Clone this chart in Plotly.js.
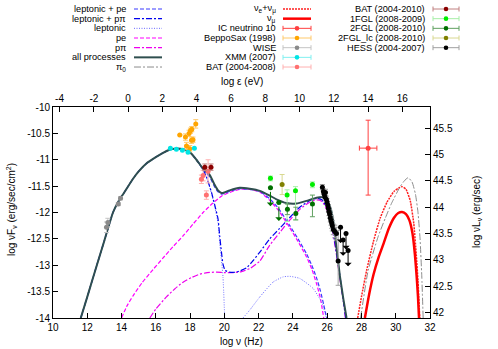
<!DOCTYPE html>
<html><head><meta charset="utf-8">
<script src="https://cdn.plot.ly/plotly-3.0.1.min.js"></script>
<style>html,body{margin:0;padding:0;background:#fff}#chart{width:498px;height:349px}</style>
</head><body><div id="chart"></div>
<script>
// ---------- model curves (log nu [Hz], log nuFnu) ----------
const allX = [11.62,12.0,12.5,13.0,13.5,13.8,14.1,14.67,15.0,15.45,16.0,16.42,16.8,17.1,17.6,18.0,18.37,18.76,19.15,19.44,19.63,19.83,20.0,20.31,20.9,21.48,22.07,22.65,23.04,23.62,24.21,24.79,25.38,25.76,26.0,26.2,26.35,26.5,26.74,26.95,27.13];
const allY = [-14,-13.6,-13.06,-12.53,-12.0,-11.8,-11.65,-11.36,-11.22,-11.07,-10.95,-10.87,-10.81,-10.79,-10.8,-10.86,-11.0,-11.17,-11.29,-11.48,-11.58,-11.63,-11.62,-11.58,-11.53,-11.55,-11.59,-11.68,-11.75,-11.82,-11.83,-11.78,-11.72,-11.71,-11.78,-11.92,-12.15,-12.55,-13.2,-13.65,-14];

const lepX = [11.62,12.0,12.5,13.0,13.5,13.8,14.1,14.67,15.0,15.45,16.0,16.42,16.8,17.1,17.6,18.0,18.37,18.6,18.95,19.25,19.44,19.63,19.73,19.83,19.92,20.02,null,21.09,21.48,22.07,22.84,23.43,23.82,24.4,25.18,25.67,25.96];
const lepY = [-14,-13.6,-13.06,-12.53,-12.0,-11.8,-11.65,-11.36,-11.22,-11.07,-10.95,-10.87,-10.81,-10.79,-10.8,-10.86,-11.0,-11.1,-11.33,-11.64,-11.9,-12.2,-12.59,-12.9,-13.22,-14,null,-14,-13.85,-13.6,-13.32,-13.22,-13.21,-13.25,-13.44,-13.7,-14];

const lepPeX = [11.62,12.0,12.5,13.0,13.5,13.8,14.1,14.67,15.0,15.45,16.0,16.42,16.8,17.1,17.6,18.0,18.37,18.76,19.15,19.44,19.63,19.83,20.0,20.31,20.9,21.48,22.07,22.65,23.2,23.8,24.3,24.79,25.1,25.38,25.6,25.8,25.97];
const lepPeY = [-14,-13.6,-13.06,-12.53,-12.0,-11.8,-11.65,-11.36,-11.22,-11.07,-10.95,-10.87,-10.81,-10.79,-10.8,-10.86,-11.0,-11.19,-11.33,-11.52,-11.61,-11.65,-11.64,-11.6,-11.55,-11.56,-11.6,-11.74,-11.94,-12.24,-12.5,-12.78,-13.0,-13.24,-13.48,-13.75,-14];

const lepPpiX = [11.62,12.0,12.5,13.0,13.5,13.8,14.1,14.67,15.0,15.45,16.0,16.42,16.8,17.1,17.6,18.0,18.37,18.6,18.95,19.25,19.44,19.63,19.73,19.83,19.92,20.05,20.3,20.7,21.29,21.68,22.07,22.65,23.23,23.8,24.4,25.0,25.4,25.7,26.0,26.3,26.55,26.8,27.08];
const lepPpiY = [-14,-13.6,-13.06,-12.53,-12.0,-11.8,-11.65,-11.36,-11.22,-11.07,-10.95,-10.87,-10.81,-10.79,-10.8,-10.86,-11.0,-11.1,-11.32,-11.62,-11.86,-12.12,-12.45,-12.75,-12.98,-13.1,-13.13,-13.13,-13.05,-12.91,-12.75,-12.5,-12.3,-12.1,-11.9,-11.77,-11.73,-11.76,-11.93,-12.28,-12.78,-13.33,-14];

const peX = [14.0,14.3,14.67,15.2,15.84,16.4,17.0,17.6,18.17,18.76,19.3,19.83,20.31,20.9,21.48,22.07,22.65,23.2,23.8,24.3,24.79,25.1,25.38,25.6,25.8];
const peY = [-14,-13.78,-13.58,-13.33,-13.08,-12.87,-12.65,-12.44,-12.22,-12.0,-11.83,-11.69,-11.62,-11.56,-11.56,-11.61,-11.77,-11.98,-12.28,-12.55,-12.84,-13.07,-13.35,-13.62,-14];

const ppiX = [15.65,16.0,16.62,17.1,17.59,18.1,18.56,19.0,19.54,20.0,20.51,21.0,21.5,22.07,22.65,23.23,23.8,24.4,25.0,25.4,25.7,26.0,26.3,26.55,26.8,27.0,27.06];
const ppiY = [-14,-13.83,-13.6,-13.45,-13.32,-13.23,-13.17,-13.14,-13.13,-13.14,-13.14,-13.12,-13.06,-12.92,-12.62,-12.38,-12.15,-11.94,-11.8,-11.76,-11.79,-11.96,-12.32,-12.82,-13.38,-13.8,-14];

const pi0X = [27.95,28.39,28.97,29.4,29.75,30.24,30.5,30.72,30.95,31.15,31.3,31.42,31.52,31.6];
const pi0Y = [-14,-13.1,-12.46,-12.1,-11.83,-11.52,-11.4,-11.34,-11.42,-11.65,-12.0,-12.5,-13.2,-14];

const nuAllX = [27.78,28.0,28.3,28.7,29.1,29.5,29.9,30.2,30.37,30.6,30.85,31.05,31.2,31.3,31.4];
const nuAllY = [-14,-13.6,-13.1,-12.55,-12.1,-11.8,-11.6,-11.53,-11.51,-11.56,-11.78,-12.2,-12.8,-13.3,-14];

const numuX = [28.2,28.45,28.7,29.0,29.3,29.6,29.9,30.15,30.37,30.6,30.8,30.98,31.12,31.22,31.3,31.36];
const numuY = [-14,-13.55,-13.18,-12.85,-12.58,-12.3,-12.1,-12.01,-11.99,-12.03,-12.15,-12.4,-12.8,-13.2,-13.6,-14];

// ---------- observations ----------
const wiseX = [13.12,13.2,13.81,13.94];
const wiseY = [-12.28,-12.19,-11.84,-11.73];
const wiseE = [0.1,0.08,0.03,0.03];

const saxX = [17.40,17.73,17.79,17.94,18.02,18.10,18.08,18.17,17.98,18.33];
const saxY = [-10.53,-10.57,-10.74,-10.50,-10.45,-10.42,-10.63,-10.62,-10.79,-10.32];
const saxE = [0.0,0.06,0.07,0.06,0.05,0.05,0.06,0.05,0.06,0.08];

const xmmX = [16.85,17.2,17.55,17.88,18.25];
const xmmY = [-10.78,-10.8,-10.82,-10.86,-10.78];

const bat08X = [18.66,18.76,18.95,19.05];
const bat08Y = [-11.37,-11.30,-11.67,-11.22];
const bat08E = [0.08,0.1,0.08,0.22];

const bat10X = [18.86,19.22];
const bat10Y = [-11.14,-11.14];
const bat10E = [0.06,0.06];

const icX = [28.39];
const icY = [-10.78];
const icEp = [0.53];
const icEm = [0.89];
const icEx = [0.51];

const fgl1X = [22.69,23.66,24.15,25.14];
const fgl1Y = [-11.35,-11.67,-11.59,-11.47];
const fgl1Ep = [0.04,0.1,0.08,0.05];
const fgl1Em = [0.05,0.5,0.55,0.06];

const fgl2X = [22.69,23.18,23.68,24.17,25.14];
const fgl2Y = [-11.53,-11.81,-11.94,-12.02,-11.84];
const fgl2Ep = [0,0,0.1,0.12,0.17];
const fgl2Em = [0,0,0.1,0.12,0.24];
const fgl2UL = [true,true,false,false,false];

const lcX = [23.37];
const lcY = [-11.47];
const lcE = [0.19];

const hessX = [25.72,25.78,25.82,25.86,25.9,25.95,25.99,26.03,26.07,26.1,26.14,26.18,26.22,26.26,26.3,26.36,26.44,26.54,26.64];
const hessY = [-11.52,-11.6,-11.65,-11.7,-11.62,-11.75,-11.8,-11.86,-11.92,-11.98,-12.03,-12.1,-12.15,-12.2,-12.25,-12.32,-12.36,-12.4,-12.92];
const hessEp = [0.05,0.05,0.05,0.06,0.06,0.06,0.06,0.07,0.07,0.08,0.08,0.08,0.09,0.1,0.1,0.1,0.12,0.12,0.58];
const hessEm = [0.05,0.05,0.05,0.06,0.06,0.06,0.06,0.07,0.07,0.08,0.08,0.08,0.09,0.1,0.1,0.1,0.12,0.12,0.46];
const hessUlX = [26.78,26.93,27.1,27.22];
const hessUlY = [-12.28,-12.52,-12.4,-12.72];

// ---------- axes ticks ----------
const xTicks = [10,12,14,16,18,20,22,24,26,28,30,32];
const xTickText = ['10','12','14','16','18','20','22','24','26','28','30','32'];
const x2Ticks = [-4,-2,0,2,4,6,8,10,12,14,16];
const x2TickText = ['-4','-2','0','2','4','6','8','10','12','14','16'];
const yTicks = [-14,-13.5,-13,-12.5,-12,-11.5,-11,-10.5,-10];
const yTickText = ['-14','-13.5','-13','-12.5','-12','-11.5','-11','-10.5','-10'];
const y2Ticks = [42,42.5,43,43.5,44,44.5,45,45.5];
const y2TickText = ['42','42.5','43','43.5','44','44.5','45','45.5'];
const LOG_H_EV = 14.383;   // log nu(Hz) - log eps(eV)
const LUM_OFFSET = 55.9;   // log nuLnu - log nuFnu

const FONT = 'Liberation Sans, Arial, sans-serif';
const traces = [];
// empty traces so that the top and right axes are created
traces.push({x:[], y:[], xaxis:'x2', yaxis:'y', mode:'markers', hoverinfo:'skip'});
traces.push({x:[], y:[], xaxis:'x', yaxis:'y2', mode:'markers', hoverinfo:'skip'});

function curve(x, y, color, width, dash) {
  traces.push({x, y, mode:'lines', line:{color, width, dash, shape:'spline', smoothing:0.5}, hoverinfo:'skip', connectgaps:false});
}
curve(pi0X, pi0Y, '#8c8c8c', 1, '7px,2px,2px,2px');
curve(nuAllX, nuAllY, '#ff2020', 1.5, '2px,1px');
curve(numuX, numuY, '#ff0000', 2.5, 'solid');
curve(ppiX, ppiY, '#ee00ee', 1.2, '6px,2px,2px,2px');
curve(peX, peY, '#ff00ff', 1.2, '4px,2px');
curve(lepX, lepY, '#6a6aff', 1, '1px,1.5px');
curve(lepPpiX, lepPpiY, '#0000ee', 1.2, '6px,2px,2px,2px');
curve(lepPeX, lepPeY, '#3a3aff', 1.2, '4px,2px');
curve(allX, allY, '#2f4f4f', 2, 'solid');

function pts(x, y, mcolor, ecolor, ey, eym, ex) {
  const t = {x, y, mode:'markers', marker:{color:mcolor, size:5}, hoverinfo:'skip'};
  if (ey) t.error_y = {type:'data', array:ey, arrayminus:eym||ey, symmetric:!eym, color:ecolor, thickness:1, width:2.5};
  if (ex) t.error_x = {type:'data', array:ex, color:ecolor, thickness:1, width:2.5};
  traces.push(t);
}
pts(wiseX, wiseY, '#8a8a8a', '#c4c4c4', wiseE);
pts(saxX, saxY, '#ffa500', '#ffc96a', saxE);
pts(xmmX, xmmY, '#00e5e5', '#80f0f0');
pts(bat08X, bat08Y, '#ff7070', '#ffb0b0', bat08E);
pts(bat10X, bat10Y, '#8b0000', '#c08080', bat10E);
pts(fgl1X, fgl1Y, '#00ee00', '#a8eea8', fgl1Ep, fgl1Em);
pts(fgl2X, fgl2Y, '#007000', '#60a060', fgl2Ep, fgl2Em);
pts(lcX, lcY, '#808000', '#d8d890', lcE);
pts(hessX, hessY, '#000000', '#a0a0a0', hessEp, hessEm);
pts(hessUlX, hessUlY, '#000000', '#a0a0a0');
pts(icX, icY, '#ff4040', '#ff4040', icEp, icEm, icEx);

const annotations = [];
const ARROW = 0.3;
function ul(x, y, color) {
  annotations.push({x:x, y:y-ARROW, ax:x, ay:y, xref:'x', yref:'y', axref:'x', ayref:'y', text:'', showarrow:true, arrowhead:1, arrowsize:1.2, arrowwidth:1, arrowcolor:color});
}
hessUlX.forEach((x,i)=>ul(x, hessUlY[i], '#000'));
fgl2X.forEach((x,i)=>{ if (fgl2UL[i]) ul(x, fgl2Y[i]-0.05, '#007000'); });

// ---------- pixel helpers for legend & titles ----------
const ML = 53, MT = 107, PW = 377, PH = 211;
const PX = v => (v - ML) / PW, PY = v => (MT + PH - v) / PH;
function txt(text, xp, yp, anchor, size, angle) {
  annotations.push({text, x:PX(xp), y:PY(yp), xref:'paper', yref:'paper', xanchor:anchor, yanchor:'middle', showarrow:false, textangle:angle||0, font:{family:FONT, size:size||10, color:'#000'}});
}
// axis titles
txt('log ν (Hz)', 241, 341, 'center', 10);
txt('log ε (eV)', 242, 81, 'center', 10);
txt('log νF<sub>ν</sub> (erg/sec/cm<sup>2</sup>)', 11, 210, 'center', 10, -90);
txt('log νL<sub>ν</sub> (erg/sec)', 477, 212, 'center', 10, -90);

const shapes = [];
function sLine(x0, x1, y, color, width, dash) {
  shapes.push({type:'line', xref:'paper', yref:'paper', x0:PX(x0), x1:PX(x1), y0:PY(y), y1:PY(y), line:{color, width, dash}});
}
function sErr(x0, x1, y, ecolor, mcolor) {
  sLine(x0, x1, y, ecolor, 1, 'solid');
  shapes.push({type:'line', xref:'paper', yref:'paper', x0:PX(x0), x1:PX(x0), y0:PY(y-2.5), y1:PY(y+2.5), line:{color:ecolor, width:1}});
  shapes.push({type:'line', xref:'paper', yref:'paper', x0:PX(x1), x1:PX(x1), y0:PY(y-2.5), y1:PY(y+2.5), line:{color:ecolor, width:1}});
  const cx = (x0 + x1) / 2;
  shapes.push({type:'circle', xref:'paper', yref:'paper', x0:PX(cx-2.3), x1:PX(cx+2.3), y0:PY(y+2.3), y1:PY(y-2.3), fillcolor:mcolor, line:{color:mcolor, width:0}});
}
const LFS = 9.2;
const legendLines = [
  ['leptonic + pe', '#3a3aff', 1.2, '4px,2px'],
  ['leptonic + pπ', '#0000ee', 1.2, '6px,2px,2px,2px'],
  ['leptonic', '#6a6aff', 1, '1px,1.5px'],
  ['pe', '#ff00ff', 1.2, '4px,2px'],
  ['pπ', '#ee00ee', 1.2, '6px,2px,2px,2px'],
  ['all processes', '#2f4f4f', 2, 'solid'],
  ['π<sub>0</sub>', '#8c8c8c', 1, '7px,2px,2px,2px']
];
const rowY = i => 9 + 9.67 * i;
legendLines.forEach((e,i)=>{ txt(e[0], 128, rowY(i), 'right', LFS); sLine(134, 162, rowY(i), e[1], e[2], e[3]); });
const legend2 = [
  ['ν<sub>e</sub>+ν<sub>μ</sub>', 'line', '#ff2020', 1.5, '2px,1px'],
  ['ν<sub>μ</sub>', 'line', '#ff0000', 2.5, 'solid'],
  ['IC neutrino 10', 'err', '#ff4040', '#ff4040'],
  ['BeppoSax (1998)', 'err', '#ffc96a', '#ffa500'],
  ['WISE', 'err', '#c4c4c4', '#8a8a8a'],
  ['XMM (2007)', 'err', '#80f0f0', '#00e5e5'],
  ['BAT (2004-2008)', 'err', '#ffb0b0', '#ff7070']
];
legend2.forEach((e,i)=>{
  txt(e[0], 278, rowY(i), 'right', LFS);
  if (e[1]==='line') sLine(283, 311, rowY(i), e[2], e[3], e[4]); else sErr(283, 311, rowY(i), e[2], e[3]);
});
const legend3 = [
  ['BAT (2004-2010)', '#c08080', '#8b0000'],
  ['1FGL (2008-2009)', '#a8eea8', '#00ee00'],
  ['2FGL (2008-2010)', '#60a060', '#007000'],
  ['2FGL_lc (2008-2010)', '#d8d890', '#808000'],
  ['HESS (2004-2007)', '#a0a0a0', '#000000']
];
legend3.forEach((e,i)=>{ txt(e[0], 427, rowY(i), 'right', LFS); sErr(433, 459, rowY(i), e[1], e[2]); });

const axCommon = {showgrid:false, zeroline:false, showline:true, linecolor:'#000', linewidth:1, ticks:'inside', ticklen:5, tickcolor:'#000', tickfont:{family:FONT, size:10, color:'#000'}, tickmode:'array', autorange:false};
const layout = {
  width:498, height:349,
  margin:{l:ML, r:498-ML-PW, t:MT, b:349-MT-PH, pad:0},
  paper_bgcolor:'#fff', plot_bgcolor:'#fff', showlegend:false,
  xaxis:Object.assign({}, axCommon, {range:[10,32], tickvals:xTicks, ticktext:xTickText, side:'bottom'}),
  yaxis:Object.assign({}, axCommon, {range:[-14,-10], tickvals:yTicks, ticktext:yTickText, side:'left'}),
  xaxis2:Object.assign({}, axCommon, {range:[10-LOG_H_EV, 32-LOG_H_EV], tickvals:x2Ticks, ticktext:x2TickText, side:'top', overlaying:'x', anchor:'y'}),
  yaxis2:Object.assign({}, axCommon, {range:[-14+LUM_OFFSET, -10+LUM_OFFSET], tickvals:y2Ticks, ticktext:y2TickText, side:'right', overlaying:'y', anchor:'x'}),
  annotations, shapes
};
Plotly.newPlot('chart', traces, layout, {staticPlot:true, displayModeBar:false});
</script></body></html>
